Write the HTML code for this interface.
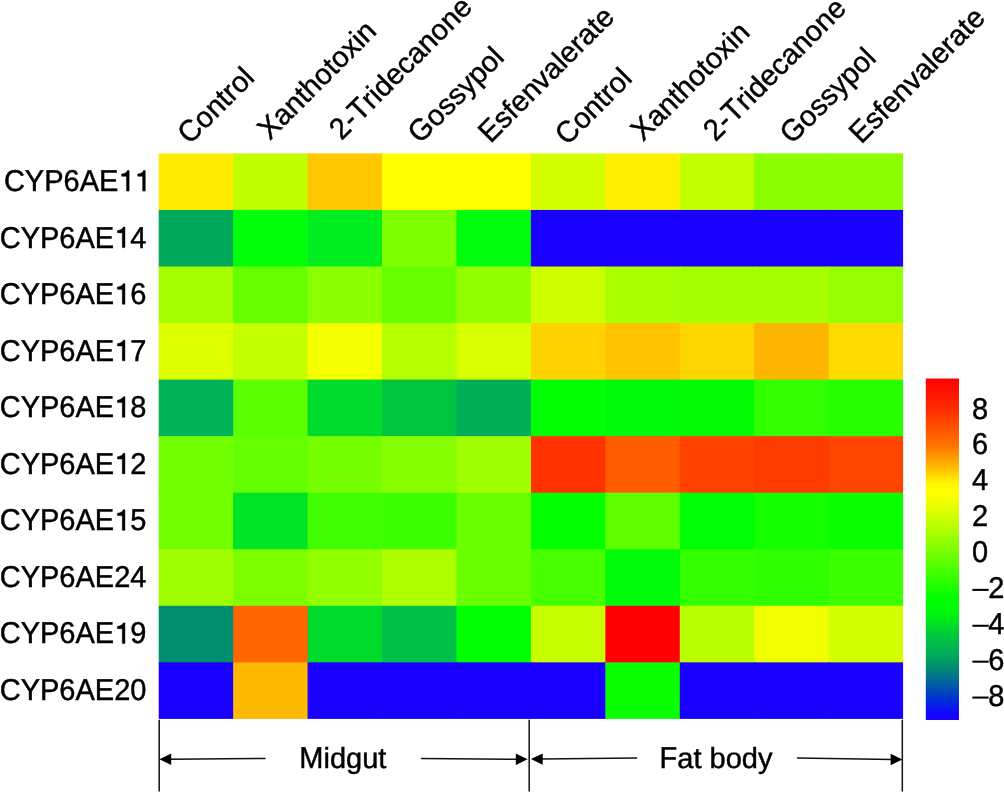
<!DOCTYPE html><html><head><meta charset="utf-8"><style>html,body{margin:0;padding:0;background:#fff;}svg{display:block;will-change:transform;}.g1{fill:#000;stroke:#000;stroke-width:31.8px;}text{font-family:"Liberation Sans",sans-serif;fill:#000;text-rendering:geometricPrecision;stroke:#000;stroke-width:0.45px;font-kerning:none;font-feature-settings:"kern" 0;}</style></head><body>
<svg width="1004" height="792" viewBox="0 0 1004 792">
<rect width="1004" height="792" fill="#fff"/>
<rect x="158.70" y="153.40" width="75.44" height="57.55" fill="#ffec00"/>
<rect x="233.14" y="153.40" width="75.44" height="57.55" fill="#bfff00"/>
<rect x="307.58" y="153.40" width="75.44" height="57.55" fill="#ffc800"/>
<rect x="382.02" y="153.40" width="75.44" height="57.55" fill="#ffff00"/>
<rect x="456.46" y="153.40" width="75.44" height="57.55" fill="#ffff00"/>
<rect x="530.90" y="153.40" width="75.44" height="57.55" fill="#d4ff00"/>
<rect x="605.34" y="153.40" width="75.44" height="57.55" fill="#fff000"/>
<rect x="679.78" y="153.40" width="75.44" height="57.55" fill="#c3ff00"/>
<rect x="754.22" y="153.40" width="75.44" height="57.55" fill="#8cff00"/>
<rect x="828.66" y="153.40" width="74.44" height="57.55" fill="#8cff00"/>
<rect x="158.70" y="209.95" width="75.44" height="57.55" fill="#00a85a"/>
<rect x="233.14" y="209.95" width="75.44" height="57.55" fill="#00ff08"/>
<rect x="307.58" y="209.95" width="75.44" height="57.55" fill="#00ee20"/>
<rect x="382.02" y="209.95" width="75.44" height="57.55" fill="#80ff00"/>
<rect x="456.46" y="209.95" width="75.44" height="57.55" fill="#00ff0c"/>
<rect x="530.90" y="209.95" width="75.44" height="57.55" fill="#1900ff"/>
<rect x="605.34" y="209.95" width="75.44" height="57.55" fill="#1900ff"/>
<rect x="679.78" y="209.95" width="75.44" height="57.55" fill="#1900ff"/>
<rect x="754.22" y="209.95" width="75.44" height="57.55" fill="#1900ff"/>
<rect x="828.66" y="209.95" width="74.44" height="57.55" fill="#1900ff"/>
<rect x="158.70" y="266.50" width="75.44" height="57.55" fill="#a5ff00"/>
<rect x="233.14" y="266.50" width="75.44" height="57.55" fill="#66ff00"/>
<rect x="307.58" y="266.50" width="75.44" height="57.55" fill="#8cff00"/>
<rect x="382.02" y="266.50" width="75.44" height="57.55" fill="#66ff00"/>
<rect x="456.46" y="266.50" width="75.44" height="57.55" fill="#91ff00"/>
<rect x="530.90" y="266.50" width="75.44" height="57.55" fill="#cdff00"/>
<rect x="605.34" y="266.50" width="75.44" height="57.55" fill="#aaff00"/>
<rect x="679.78" y="266.50" width="75.44" height="57.55" fill="#a5ff00"/>
<rect x="754.22" y="266.50" width="75.44" height="57.55" fill="#a8ff00"/>
<rect x="828.66" y="266.50" width="74.44" height="57.55" fill="#96ff00"/>
<rect x="158.70" y="323.05" width="75.44" height="57.55" fill="#ddff00"/>
<rect x="233.14" y="323.05" width="75.44" height="57.55" fill="#c3ff00"/>
<rect x="307.58" y="323.05" width="75.44" height="57.55" fill="#f5ff00"/>
<rect x="382.02" y="323.05" width="75.44" height="57.55" fill="#b4ff00"/>
<rect x="456.46" y="323.05" width="75.44" height="57.55" fill="#d7ff00"/>
<rect x="530.90" y="323.05" width="75.44" height="57.55" fill="#ffd200"/>
<rect x="605.34" y="323.05" width="75.44" height="57.55" fill="#ffc300"/>
<rect x="679.78" y="323.05" width="75.44" height="57.55" fill="#ffd700"/>
<rect x="754.22" y="323.05" width="75.44" height="57.55" fill="#ffb600"/>
<rect x="828.66" y="323.05" width="74.44" height="57.55" fill="#ffdc00"/>
<rect x="158.70" y="379.60" width="75.44" height="57.55" fill="#00b258"/>
<rect x="233.14" y="379.60" width="75.44" height="57.55" fill="#5aff00"/>
<rect x="307.58" y="379.60" width="75.44" height="57.55" fill="#00dc2d"/>
<rect x="382.02" y="379.60" width="75.44" height="57.55" fill="#00c440"/>
<rect x="456.46" y="379.60" width="75.44" height="57.55" fill="#00ae5a"/>
<rect x="530.90" y="379.60" width="75.44" height="57.55" fill="#03ff03"/>
<rect x="605.34" y="379.60" width="75.44" height="57.55" fill="#00f80a"/>
<rect x="679.78" y="379.60" width="75.44" height="57.55" fill="#03fc05"/>
<rect x="754.22" y="379.60" width="75.44" height="57.55" fill="#32ff00"/>
<rect x="828.66" y="379.60" width="74.44" height="57.55" fill="#28ff00"/>
<rect x="158.70" y="436.15" width="75.44" height="57.55" fill="#72ff00"/>
<rect x="233.14" y="436.15" width="75.44" height="57.55" fill="#64ff00"/>
<rect x="307.58" y="436.15" width="75.44" height="57.55" fill="#76ff00"/>
<rect x="382.02" y="436.15" width="75.44" height="57.55" fill="#87ff00"/>
<rect x="456.46" y="436.15" width="75.44" height="57.55" fill="#a0ff00"/>
<rect x="530.90" y="436.15" width="75.44" height="57.55" fill="#ff3200"/>
<rect x="605.34" y="436.15" width="75.44" height="57.55" fill="#ff5c00"/>
<rect x="679.78" y="436.15" width="75.44" height="57.55" fill="#ff4100"/>
<rect x="754.22" y="436.15" width="75.44" height="57.55" fill="#ff3c00"/>
<rect x="828.66" y="436.15" width="74.44" height="57.55" fill="#ff4600"/>
<rect x="158.70" y="492.70" width="75.44" height="57.55" fill="#72ff00"/>
<rect x="233.14" y="492.70" width="75.44" height="57.55" fill="#00e428"/>
<rect x="307.58" y="492.70" width="75.44" height="57.55" fill="#41ff00"/>
<rect x="382.02" y="492.70" width="75.44" height="57.55" fill="#3cff00"/>
<rect x="456.46" y="492.70" width="75.44" height="57.55" fill="#6cff00"/>
<rect x="530.90" y="492.70" width="75.44" height="57.55" fill="#04ff00"/>
<rect x="605.34" y="492.70" width="75.44" height="57.55" fill="#5fff00"/>
<rect x="679.78" y="492.70" width="75.44" height="57.55" fill="#00ff05"/>
<rect x="754.22" y="492.70" width="75.44" height="57.55" fill="#14ff00"/>
<rect x="828.66" y="492.70" width="74.44" height="57.55" fill="#0aff00"/>
<rect x="158.70" y="549.25" width="75.44" height="57.55" fill="#a0ff00"/>
<rect x="233.14" y="549.25" width="75.44" height="57.55" fill="#7dff00"/>
<rect x="307.58" y="549.25" width="75.44" height="57.55" fill="#91ff00"/>
<rect x="382.02" y="549.25" width="75.44" height="57.55" fill="#afff00"/>
<rect x="456.46" y="549.25" width="75.44" height="57.55" fill="#69ff00"/>
<rect x="530.90" y="549.25" width="75.44" height="57.55" fill="#46ff00"/>
<rect x="605.34" y="549.25" width="75.44" height="57.55" fill="#00fc0a"/>
<rect x="679.78" y="549.25" width="75.44" height="57.55" fill="#32ff00"/>
<rect x="754.22" y="549.25" width="75.44" height="57.55" fill="#2dff00"/>
<rect x="828.66" y="549.25" width="74.44" height="57.55" fill="#3cff00"/>
<rect x="158.70" y="605.80" width="75.44" height="57.55" fill="#008e6f"/>
<rect x="233.14" y="605.80" width="75.44" height="57.55" fill="#ff6600"/>
<rect x="307.58" y="605.80" width="75.44" height="57.55" fill="#00da2d"/>
<rect x="382.02" y="605.80" width="75.44" height="57.55" fill="#00c04a"/>
<rect x="456.46" y="605.80" width="75.44" height="57.55" fill="#00ff00"/>
<rect x="530.90" y="605.80" width="75.44" height="57.55" fill="#c8ff00"/>
<rect x="605.34" y="605.80" width="75.44" height="57.55" fill="#ff0000"/>
<rect x="679.78" y="605.80" width="75.44" height="57.55" fill="#b9ff00"/>
<rect x="754.22" y="605.80" width="75.44" height="57.55" fill="#f0ff00"/>
<rect x="828.66" y="605.80" width="74.44" height="57.55" fill="#d4ff00"/>
<rect x="158.70" y="662.35" width="75.44" height="56.55" fill="#1900ff"/>
<rect x="233.14" y="662.35" width="75.44" height="56.55" fill="#ffb900"/>
<rect x="307.58" y="662.35" width="75.44" height="56.55" fill="#1900ff"/>
<rect x="382.02" y="662.35" width="75.44" height="56.55" fill="#1900ff"/>
<rect x="456.46" y="662.35" width="75.44" height="56.55" fill="#1900ff"/>
<rect x="530.90" y="662.35" width="75.44" height="56.55" fill="#1900ff"/>
<rect x="605.34" y="662.35" width="75.44" height="56.55" fill="#0aff00"/>
<rect x="679.78" y="662.35" width="75.44" height="56.55" fill="#1900ff"/>
<rect x="754.22" y="662.35" width="75.44" height="56.55" fill="#1900ff"/>
<rect x="828.66" y="662.35" width="74.44" height="56.55" fill="#1900ff"/>
<text transform="translate(150.60 191.08) scale(1 1.04)" font-size="29" text-anchor="end">CYP6AE  </text>
<path class="g1" transform="translate(118.34 191.08) scale(0.014160 -0.014160)" d="M763 0H575V1040Q420 1040 232 1047V1206Q440 1230 545 1320Q610 1380 640 1450H763Z"/>
<path class="g1" transform="translate(134.47 191.08) scale(0.014160 -0.014160)" d="M763 0H575V1040Q420 1040 232 1047V1206Q440 1230 545 1320Q610 1380 640 1450H763Z"/>
<text transform="translate(146.40 247.62) scale(1 1.04)" font-size="29" text-anchor="end">CYP6AE 4</text>
<path class="g1" transform="translate(114.14 247.62) scale(0.014160 -0.014160)" d="M763 0H575V1040Q420 1040 232 1047V1206Q440 1230 545 1320Q610 1380 640 1450H763Z"/>
<text transform="translate(146.40 304.17) scale(1 1.04)" font-size="29" text-anchor="end">CYP6AE 6</text>
<path class="g1" transform="translate(114.14 304.17) scale(0.014160 -0.014160)" d="M763 0H575V1040Q420 1040 232 1047V1206Q440 1230 545 1320Q610 1380 640 1450H763Z"/>
<text transform="translate(146.40 360.72) scale(1 1.04)" font-size="29" text-anchor="end">CYP6AE 7</text>
<path class="g1" transform="translate(114.14 360.72) scale(0.014160 -0.014160)" d="M763 0H575V1040Q420 1040 232 1047V1206Q440 1230 545 1320Q610 1380 640 1450H763Z"/>
<text transform="translate(146.40 417.27) scale(1 1.04)" font-size="29" text-anchor="end">CYP6AE 8</text>
<path class="g1" transform="translate(114.14 417.27) scale(0.014160 -0.014160)" d="M763 0H575V1040Q420 1040 232 1047V1206Q440 1230 545 1320Q610 1380 640 1450H763Z"/>
<text transform="translate(146.40 473.82) scale(1 1.04)" font-size="29" text-anchor="end">CYP6AE 2</text>
<path class="g1" transform="translate(114.14 473.82) scale(0.014160 -0.014160)" d="M763 0H575V1040Q420 1040 232 1047V1206Q440 1230 545 1320Q610 1380 640 1450H763Z"/>
<text transform="translate(146.40 530.37) scale(1 1.04)" font-size="29" text-anchor="end">CYP6AE 5</text>
<path class="g1" transform="translate(114.14 530.37) scale(0.014160 -0.014160)" d="M763 0H575V1040Q420 1040 232 1047V1206Q440 1230 545 1320Q610 1380 640 1450H763Z"/>
<text transform="translate(146.40 586.92) scale(1 1.04)" font-size="29" text-anchor="end">CYP6AE24</text>
<text transform="translate(146.40 643.47) scale(1 1.04)" font-size="29" text-anchor="end">CYP6AE 9</text>
<path class="g1" transform="translate(114.14 643.47) scale(0.014160 -0.014160)" d="M763 0H575V1040Q420 1040 232 1047V1206Q440 1230 545 1320Q610 1380 640 1450H763Z"/>
<text transform="translate(146.40 700.02) scale(1 1.04)" font-size="29" text-anchor="end">CYP6AE20</text>
<text transform="translate(189.75 145.30) rotate(-45) translate(0.00 0) scale(1 1.04)" font-size="29" xml:space="preserve">C</text><text transform="translate(189.75 145.30) rotate(-45) translate(20.94 0) scale(1 1.0)" font-size="29" xml:space="preserve">ontrol</text>
<text transform="translate(269.65 141.00) rotate(-45) translate(0.00 0) scale(1 1.04)" font-size="29" xml:space="preserve">X</text><text transform="translate(269.65 141.00) rotate(-45) translate(19.34 0) scale(1 1.0)" font-size="29" xml:space="preserve">anthotoxin</text>
<text transform="translate(341.50 140.90) rotate(-45) translate(0.00 0) scale(1 1.04)" font-size="29" xml:space="preserve">2-T</text><text transform="translate(341.50 140.90) rotate(-45) translate(43.50 0) scale(1 1.0)" font-size="29" xml:space="preserve">ridecanone</text>
<text transform="translate(420.05 144.40) rotate(-45) translate(0.00 0) scale(1 1.04)" font-size="29" xml:space="preserve">G</text><text transform="translate(420.05 144.40) rotate(-45) translate(22.56 0) scale(1 1.0)" font-size="29" xml:space="preserve">ossypol</text>
<text transform="translate(490.40 143.90) rotate(-45) translate(0.00 0) scale(1 1.04)" font-size="29" xml:space="preserve">E</text><text transform="translate(490.40 143.90) rotate(-45) translate(19.34 0) scale(1 1.0)" font-size="29" xml:space="preserve">sfenvalerate</text>
<text transform="translate(567.35 146.15) rotate(-45) translate(0.00 0) scale(1 1.04)" font-size="29" xml:space="preserve">C</text><text transform="translate(567.35 146.15) rotate(-45) translate(20.94 0) scale(1 1.0)" font-size="29" xml:space="preserve">ontrol</text>
<text transform="translate(643.05 142.25) rotate(-45) translate(0.00 0) scale(1 1.04)" font-size="29" xml:space="preserve">X</text><text transform="translate(643.05 142.25) rotate(-45) translate(19.34 0) scale(1 1.0)" font-size="29" xml:space="preserve">anthotoxin</text>
<text transform="translate(715.55 142.15) rotate(-45) translate(0.00 0) scale(1 1.04)" font-size="29" xml:space="preserve">2-T</text><text transform="translate(715.55 142.15) rotate(-45) translate(43.50 0) scale(1 1.0)" font-size="29" xml:space="preserve">ridecanone</text>
<text transform="translate(792.05 145.10) rotate(-45) translate(0.00 0) scale(1 1.04)" font-size="29" xml:space="preserve">G</text><text transform="translate(792.05 145.10) rotate(-45) translate(22.56 0) scale(1 1.0)" font-size="29" xml:space="preserve">ossypol</text>
<text transform="translate(861.25 144.80) rotate(-45) translate(0.00 0) scale(1 1.04)" font-size="29" xml:space="preserve">E</text><text transform="translate(861.25 144.80) rotate(-45) translate(19.34 0) scale(1 1.0)" font-size="29" xml:space="preserve">sfenvalerate</text>
<defs><linearGradient id="cb" x1="0" y1="0" x2="0" y2="1">
<stop offset="0.0000" stop-color="rgb(255,0,0)"/><stop offset="0.0922" stop-color="rgb(255,45,0)"/><stop offset="0.1947" stop-color="rgb(255,115,0)"/><stop offset="0.2679" stop-color="rgb(255,195,0)"/><stop offset="0.3060" stop-color="rgb(255,245,0)"/><stop offset="0.3324" stop-color="rgb(255,255,0)"/><stop offset="0.3558" stop-color="rgb(245,255,0)"/><stop offset="0.4143" stop-color="rgb(200,255,0)"/><stop offset="0.5081" stop-color="rgb(120,255,0)"/><stop offset="0.5754" stop-color="rgb(60,255,0)"/><stop offset="0.6428" stop-color="rgb(0,255,0)"/><stop offset="0.6837" stop-color="rgb(0,250,10)"/><stop offset="0.7511" stop-color="rgb(0,200,60)"/><stop offset="0.8097" stop-color="rgb(0,170,90)"/><stop offset="0.8536" stop-color="rgb(0,135,120)"/><stop offset="0.8975" stop-color="rgb(0,90,165)"/><stop offset="0.9414" stop-color="rgb(0,45,215)"/><stop offset="0.9766" stop-color="rgb(15,10,250)"/><stop offset="1.0000" stop-color="rgb(25,0,255)"/>
</linearGradient></defs>
<rect x="925.8" y="378.5" width="33.2" height="341.5" fill="url(#cb)"/>
<text transform="translate(972.10 418.50) scale(1 1.04)" font-size="29">8</text>
<text transform="translate(972.10 454.40) scale(1 1.04)" font-size="29">6</text>
<text transform="translate(972.10 490.30) scale(1 1.04)" font-size="29">4</text>
<text transform="translate(972.10 526.20) scale(1 1.04)" font-size="29">2</text>
<text transform="translate(972.10 562.10) scale(1 1.04)" font-size="29">0</text>
<rect x="972.4" y="588.85" width="16.3" height="2.05" fill="#000"/>
<text transform="translate(988.20 598.00) scale(1 1.04)" font-size="29">2</text>
<rect x="972.4" y="624.75" width="16.3" height="2.05" fill="#000"/>
<text transform="translate(988.20 633.90) scale(1 1.04)" font-size="29">4</text>
<rect x="972.4" y="660.65" width="16.3" height="2.05" fill="#000"/>
<text transform="translate(988.20 669.80) scale(1 1.04)" font-size="29">6</text>
<rect x="972.4" y="696.55" width="16.3" height="2.05" fill="#000"/>
<text transform="translate(988.20 705.70) scale(1 1.04)" font-size="29">8</text>
<line x1="159.2" y1="719.8" x2="159.2" y2="791.5" stroke="#1e1e1e" stroke-width="1.6"/>
<line x1="529.2" y1="719.8" x2="529.2" y2="791.5" stroke="#1e1e1e" stroke-width="1.6"/>
<line x1="902.3" y1="719.8" x2="902.3" y2="791.5" stroke="#1e1e1e" stroke-width="1.6"/>
<line x1="265.00" y1="758.40" x2="169.70" y2="759.30" stroke="#111" stroke-width="1.5" stroke-linecap="round"/><polygon points="159.40,759.30 171.20,753.60 171.20,765.00" fill="#000"/>
<line x1="421.50" y1="758.40" x2="517.30" y2="759.30" stroke="#111" stroke-width="1.5" stroke-linecap="round"/><polygon points="527.60,759.30 515.80,753.60 515.80,765.00" fill="#000"/>
<line x1="636.60" y1="757.90" x2="541.20" y2="759.10" stroke="#111" stroke-width="1.5" stroke-linecap="round"/><polygon points="530.90,759.10 542.70,753.40 542.70,764.80" fill="#000"/>
<line x1="797.50" y1="758.00" x2="892.10" y2="759.50" stroke="#111" stroke-width="1.5" stroke-linecap="round"/><polygon points="902.40,759.50 890.60,753.80 890.60,765.20" fill="#000"/>
<text transform="translate(342.80 768.20) translate(-43.52 0) scale(1 1.04)" font-size="29" xml:space="preserve">M</text><text transform="translate(342.80 768.20) translate(-19.36 0) scale(1 1.0)" font-size="29" xml:space="preserve">idgut</text>
<text transform="translate(716.00 768.20) translate(-56.42 0) scale(1 1.04)" font-size="29" xml:space="preserve">F</text><text transform="translate(716.00 768.20) translate(-38.71 0) scale(1 1.0)" font-size="29" xml:space="preserve">at body</text>
</svg></body></html>
